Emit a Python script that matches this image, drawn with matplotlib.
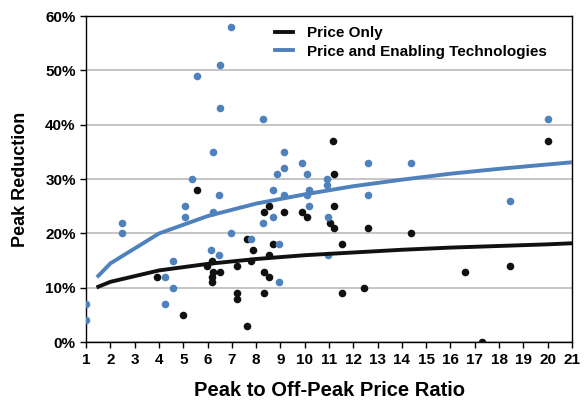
import numpy as np
import matplotlib
matplotlib.use("Agg")
import matplotlib.pyplot as plt
from matplotlib.ticker import PercentFormatter

plt.rcParams['font.family'] = ['Liberation Sans', 'DejaVu Sans']
plt.rcParams['font.weight'] = 'bold'

# Scatter points (price ratio, peak reduction %)
price_only_x = [3.92, 4.98, 5.57, 5.98, 6.2, 6.23, 6.53, 6.2, 6.2, 7.21, 7.21, 7.21,
                7.61, 7.61, 7.87, 7.8, 8.31, 8.53, 8.31, 8.53, 8.31, 8.53, 8.68, 9.13,
                9.89, 10.1, 11.15, 11.2, 11.2, 11.05, 11.2, 11.52, 11.52, 12.45, 12.6,
                14.39, 16.6, 17.3, 18.45, 20.0]
price_only_y = [12, 5, 28, 14, 15, 13, 13, 12, 11, 14, 9, 8,
                3, 19, 17, 15, 24, 25, 13, 12, 9, 16, 18, 24,
                24, 23, 37, 31, 25, 22, 21, 18, 9, 10, 21,
                20, 13, 0, 14, 37]

enabling_x = [1, 1, 2.49, 2.49, 4.25, 4.25, 4.58, 4.58, 5.35, 5.57, 5.09, 5.09,
              6.23, 6.53, 6.53, 6.47, 6.23, 6.97, 6.97, 6.14, 6.47, 8.27, 7.8,
              8.95, 8.95, 8.3, 8.7, 8.7, 8.86, 9.13, 9.13, 9.89, 10.1, 10.9, 10.9,
              12.6, 9.13, 10.18, 10.1, 12.6, 10.18, 10.96, 10.96, 20.0, 14.39, 18.45]
enabling_y = [7, 4, 22, 20, 12, 7, 15, 10, 30, 49, 25, 23,
              35, 51, 43, 27, 24, 58, 20, 17, 16, 41, 19,
              18, 11, 22, 23, 28, 31, 35, 32, 33, 31, 30, 29,
              33, 27, 28, 27, 27, 25, 23, 16, 41, 33, 26]

# Trend lines
trend_x = [1.5, 2, 4, 6, 8, 10, 12, 14, 16, 18, 20, 21]
trend_price_only = [10.2, 11.1, 13.2, 14.4, 15.3, 16.0, 16.5, 17.0, 17.4, 17.7, 18.0, 18.2]
trend_enabling = [12.2, 14.5, 20.0, 23.2, 25.5, 27.2, 28.7, 29.9, 31.0, 31.9, 32.7, 33.1]

blue = '#4F81BD'
black = '#111111'

fig = plt.figure(figsize=(5.86, 4.03), dpi=100)
ax = fig.add_axes([0.147, 0.151, 0.829, 0.809])

ax.scatter(price_only_x, price_only_y, s=30, color=black, zorder=3, linewidths=0)
ax.scatter(enabling_x, enabling_y, s=30, color=blue, zorder=3, linewidths=0)
ax.plot(trend_x, trend_price_only, color=black, lw=2.8, label='Price Only', zorder=4)
ax.plot(trend_x, trend_enabling, color=blue, lw=2.8,
        label='Price and Enabling Technologies', zorder=4)

ax.set_xlim(1, 21)
ax.set_ylim(0, 60)
ax.set_xticks(range(1, 22))
ax.set_yticks(range(0, 61, 10))
ax.yaxis.set_major_formatter(PercentFormatter(decimals=0))
ax.grid(axis='y', color='#bbbbbb', lw=1.2)
ax.set_axisbelow(True)
ax.tick_params(labelsize=11, length=4, width=1, direction='out')
for sp in ax.spines.values():
    sp.set_color('black')
    sp.set_linewidth(1)

ax.set_xlabel('Peak to Off-Peak Price Ratio', fontsize=14.5, fontweight='bold')
ax.set_ylabel('Peak Reduction', fontsize=13, fontweight='bold')
ax.xaxis.set_label_coords(0.5, -0.118)
ax.yaxis.set_label_coords(-0.117, 0.5)

ax.legend(loc='upper left', frameon=False, fontsize=11, handlelength=1.2,
          handletextpad=0.9, bbox_to_anchor=(0.376, 0.988), borderaxespad=0,
          labelspacing=0.3)

fig.savefig('out.png', dpi=100)
